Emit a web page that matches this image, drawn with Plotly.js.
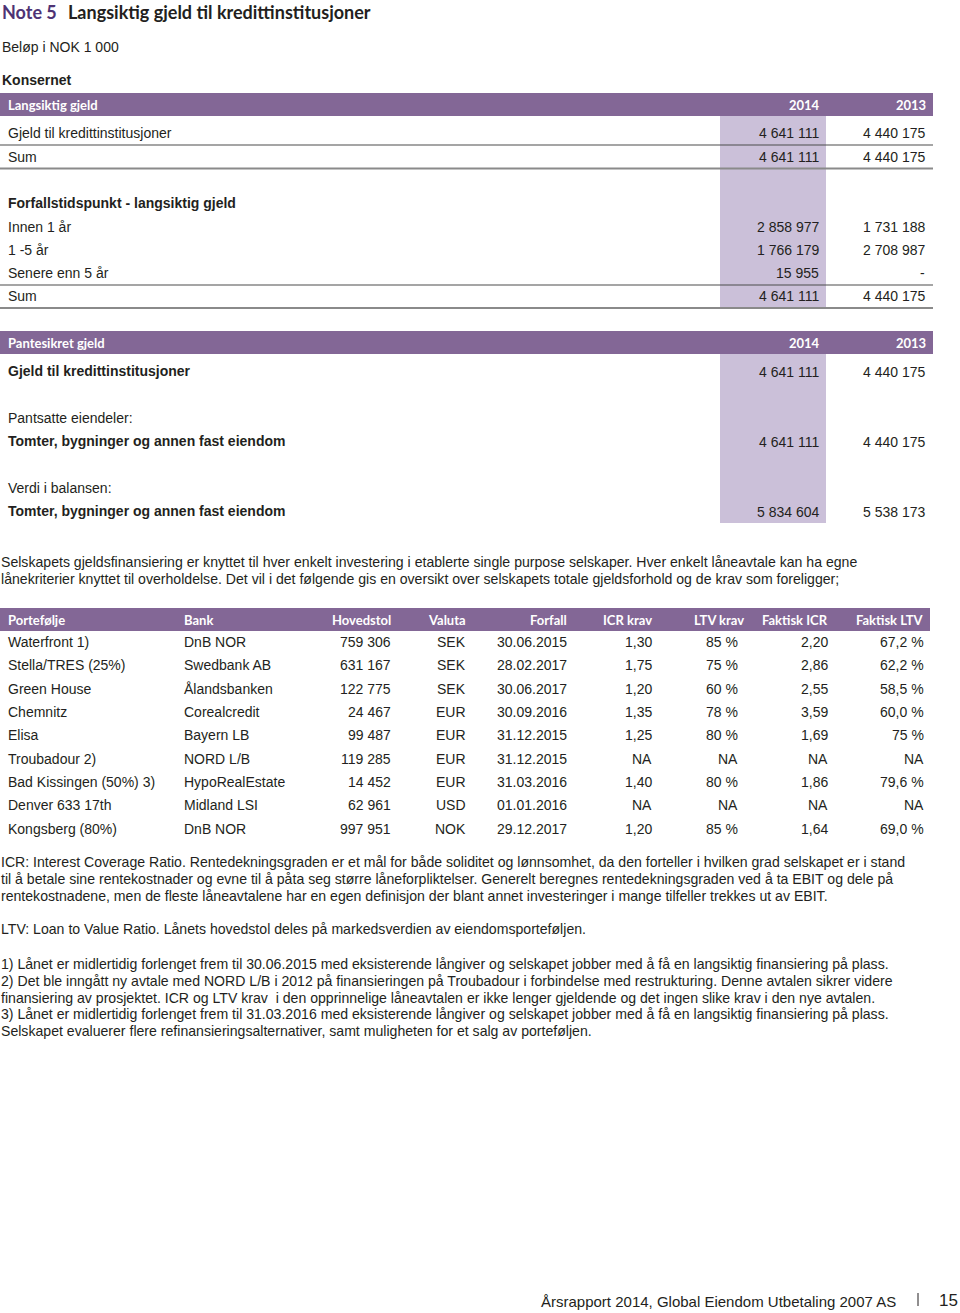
<!DOCTYPE html>
<html>
<head>
<meta charset="utf-8">
<script src="https://cdn.plot.ly/plotly-3.0.1.min.js"></script>
<style>
html,body{margin:0;padding:0;background:#fff;}
#chart{width:960px;height:1313px;}
</style>
</head>
<body>
<div id="chart"></div>
<script>
// ---------- DATA ----------
const noteLabel = 'Note 5';
const noteTitle = 'Langsiktig gjeld til kredittinstitusjoner';
const unitText = 'Beløp i NOK 1 000';
const groupText = 'Konsernet';
const years = ['2014', '2013'];

const langsiktigHeader = 'Langsiktig gjeld';
const langsiktigRows = ['Gjeld til kredittinstitusjoner', 'Sum'];
const langsiktig2014 = [4641111, 4641111];
const langsiktig2013 = [4440175, 4440175];

const forfallHeader = 'Forfallstidspunkt - langsiktig gjeld';
const forfallRows = ['Innen 1 år', '1 -5 år', 'Senere enn 5 år', 'Sum'];
const forfall2014 = [2858977, 1766179, 15955, 4641111];
const forfall2013 = [1731188, 2708987, null, 4440175];

const pantHeader = 'Pantesikret gjeld';
const pantRows = ['Gjeld til kredittinstitusjoner', 'Pantsatte eiendeler:', 'Tomter, bygninger og annen fast eiendom', 'Verdi i balansen:', 'Tomter, bygninger og annen fast eiendom'];
const pant2014 = [4641111, null, 4641111, null, 5834604];
const pant2013 = [4440175, null, 4440175, null, 5538173];

const introLines = [
  'Selskapets gjeldsfinansiering er knyttet til hver enkelt investering i etablerte single purpose selskaper. Hver enkelt låneavtale kan ha egne',
  'lånekriterier knyttet til overholdelse. Det vil i det følgende gis en oversikt over selskapets totale gjeldsforhold og de krav som foreligger;'
];

const portColumns = ['Portefølje', 'Bank', 'Hovedstol', 'Valuta', 'Forfall', 'ICR krav', 'LTV krav', 'Faktisk ICR', 'Faktisk LTV'];
const portefolje = ['Waterfront 1)', 'Stella/TRES (25%)', 'Green House', 'Chemnitz', 'Elisa', 'Troubadour 2)', 'Bad Kissingen (50%) 3)', 'Denver 633 17th', 'Kongsberg (80%)'];
const bank = ['DnB NOR', 'Swedbank AB', 'Ålandsbanken', 'Corealcredit', 'Bayern LB', 'NORD L/B', 'HypoRealEstate', 'Midland LSI', 'DnB NOR'];
const hovedstol = [759306, 631167, 122775, 24467, 99487, 119285, 14452, 62961, 997951];
const valuta = ['SEK', 'SEK', 'SEK', 'EUR', 'EUR', 'EUR', 'EUR', 'USD', 'NOK'];
const forfall = ['30.06.2015', '28.02.2017', '30.06.2017', '30.09.2016', '31.12.2015', '31.12.2015', '31.03.2016', '01.01.2016', '29.12.2017'];
const icrKrav = ['1,30', '1,75', '1,20', '1,35', '1,25', 'NA', '1,40', 'NA', '1,20'];
const ltvKrav = ['85 %', '75 %', '60 %', '78 %', '80 %', 'NA', '80 %', 'NA', '85 %'];
const faktiskIcr = ['2,20', '2,86', '2,55', '3,59', '1,69', 'NA', '1,86', 'NA', '1,64'];
const faktiskLtv = ['67,2 %', '62,2 %', '58,5 %', '60,0 %', '75 %', 'NA', '79,6 %', 'NA', '69,0 %'];

const icrLines = [
  'ICR: Interest Coverage Ratio. Rentedekningsgraden er et mål for både soliditet og lønnsomhet, da den forteller i hvilken grad selskapet er i stand',
  'til å betale sine rentekostnader og evne til å påta seg større låneforpliktelser. Generelt beregnes rentedekningsgraden ved å ta EBIT og dele på',
  'rentekostnadene, men de fleste låneavtalene har en egen definisjon der blant annet investeringer i mange tilfeller trekkes ut av EBIT.'
];
const ltvLines = ['LTV: Loan to Value Ratio. Lånets hovedstol deles på markedsverdien av eiendomsporteføljen.'];
const footnoteLines = [
  '1) Lånet er midlertidig forlenget frem til 30.06.2015 med eksisterende långiver og selskapet jobber med å få en langsiktig finansiering på plass.',
  '2) Det ble inngått ny avtale med NORD L/B i 2012 på finansieringen på Troubadour i forbindelse med restrukturing. Denne avtalen sikrer videre',
  'finansiering av prosjektet. ICR og LTV krav  i den opprinnelige låneavtalen er ikke lenger gjeldende og det ingen slike krav i den nye avtalen.',
  '3) Lånet er midlertidig forlenget frem til 31.03.2016 med eksisterende långiver og selskapet jobber med å få en langsiktig finansiering på plass.',
  'Selskapet evaluerer flere refinansieringsalternativer, samt muligheten for et salg av porteføljen.'
];
const footerText = 'Årsrapport 2014, Global Eiendom Utbetaling 2007 AS';
const pageNumber = '15';

// ---------- STYLE / LAYOUT ----------
const BODY = 'Liberation Sans, Arial, sans-serif';
const HEAD = 'Lato, Open Sans, sans-serif';
const INK = '#231f20';
const PURPLE = '#836796';
const LAVENDER = '#cbc0d9';
const FS = 14;
const PS = 14.1;

function fmt(v) {
  if (v === null || v === undefined) return '-';
  return String(v).replace(/\B(?=(\d{3})+(?!\d))/g, ' ');
}

const annotations = [];
const shapes = [];
function txt(text, x, y, o) {
  o = o || {};
  annotations.push({
    text: text, x: x, y: y, xref: 'x', yref: 'y',
    xanchor: o.anchor || 'left', yanchor: 'middle', showarrow: false,
    borderpad: 0,
    font: {family: o.family || BODY, size: o.size || FS, color: o.color || INK, weight: o.bold ? 'bold' : 'normal'}
  });
}
function rect(x0, y0, x1, y1, color) {
  shapes.push({type: 'rect', xref: 'x', yref: 'y', x0: x0, y0: y0, x1: x1, y1: y1, fillcolor: color, line: {width: 0}, layer: 'below'});
}
function hline(y, w, color) {
  shapes.push({type: 'line', xref: 'x', yref: 'y', x0: 0, x1: 933, y0: y, y1: y, line: {color: color, width: w}});
}
function headerBar(y0, label, right) {
  rect(0, y0, 933, y0 + 23, PURPLE);
  txt(label, 7, y0 + 12, {family: HEAD, bold: true, size: 13, color: '#ffffff'});
  if (right) {
    txt(years[0], 821, y0 + 12, {family: HEAD, bold: true, size: 13, color: '#ffffff', anchor: 'right'});
    txt(years[1], 927, y0 + 12, {family: HEAD, bold: true, size: 13, color: '#ffffff', anchor: 'right'});
  }
}

// Title
txt(noteLabel, 1, 12, {family: HEAD, bold: true, size: 18, color: '#4e3374'});
txt(noteTitle, 67, 12, {family: HEAD, bold: true, size: 18, color: INK});
txt(unitText, 1, 47, {});
txt(groupText, 1, 80, {bold: true});

// Table 1: Langsiktig gjeld
const C1 = 820, C2 = 926;
rect(720, 116, 826, 308, LAVENDER);
headerBar(93, langsiktigHeader, true);
const t1y = [133, 157];
langsiktigRows.forEach((r, i) => {
  txt(r, 7, t1y[i]);
  txt(fmt(langsiktig2014[i]), C1, t1y[i], {anchor: 'right'});
  txt(fmt(langsiktig2013[i]), C2, t1y[i], {anchor: 'right'});
});
hline(145, 1.2, '#4d4d4d');
hline(168.5, 2, '#8a8a8a');

txt(forfallHeader, 7, 203, {bold: true});
const t2y = [227, 250, 273, 296];
forfallRows.forEach((r, i) => {
  txt(r, 7, t2y[i]);
  txt(fmt(forfall2014[i]), C1, t2y[i], {anchor: 'right'});
  txt(fmt(forfall2013[i]), C2, t2y[i], {anchor: 'right'});
});
hline(285, 1.2, '#4d4d4d');
hline(308, 2, '#8a8a8a');

// Table 2: Pantesikret gjeld
rect(720, 354, 826, 523, LAVENDER);
headerBar(331, pantHeader, true);
const t3y = [371, 418, 441, 488, 511];
const t3bold = [true, false, true, false, true];
pantRows.forEach((r, i) => {
  txt(r, 7, t3y[i], {bold: t3bold[i]});
  if (pant2014[i] !== null) {
    txt(fmt(pant2014[i]), C1, t3y[i] + 0.5, {anchor: 'right'});
    txt(fmt(pant2013[i]), C2, t3y[i] + 0.5, {anchor: 'right'});
  }
});

// Intro paragraph
introLines.forEach((l, i) => txt(l, 0, 562 + i * 17, {size: PS}));

// Table 3: portfolio
rect(0, 608, 930, 631, PURPLE);
const colX = [7, 183, 392, 467, 568, 653, 745, 829, 925];
const colAnchor = ['left', 'left', 'right', 'right', 'right', 'right', 'right', 'right', 'right'];
portColumns.forEach((c, j) => {
  txt(c, colX[j], 620, {family: HEAD, bold: true, size: 13, color: '#ffffff', anchor: colAnchor[j]});
});
const dataX = [7, 183, 392, 467, 568, 653, 739, 829, 925];
const cols = [portefolje, bank, hovedstol.map(fmt), valuta, forfall, icrKrav, ltvKrav, faktiskIcr, faktiskLtv];
portefolje.forEach((_, i) => {
  const y = 642 + i * 23.35;
  cols.forEach((col, j) => txt(col[i], dataX[j], y, {anchor: colAnchor[j]}));
});

// Notes
icrLines.forEach((l, i) => txt(l, 0, 862 + i * 17, {size: PS}));
ltvLines.forEach((l, i) => txt(l, 0, 929 + i * 17, {size: PS}));
footnoteLines.forEach((l, i) => txt(l, 0, 964 + i * 16.8, {size: PS}));

// Footer
txt(footerText, 897, 1301, {anchor: 'right', size: 15});
shapes.push({type: 'line', xref: 'x', yref: 'y', x0: 918, x1: 918, y0: 1293, y1: 1306, line: {color: INK, width: 1}});
txt(pageNumber, 959, 1300, {anchor: 'right', size: 17});

const layout = {
  width: 960, height: 1313,
  margin: {l: 0, r: 0, t: 0, b: 0},
  paper_bgcolor: '#ffffff', plot_bgcolor: '#ffffff',
  showlegend: false,
  xaxis: {range: [0, 960], visible: false, fixedrange: true},
  yaxis: {range: [1313, 0], visible: false, fixedrange: true},
  shapes: shapes,
  annotations: annotations
};
const data = [{x: [0], y: [0], mode: 'markers', marker: {opacity: 0}, hoverinfo: 'skip'}];
Plotly.newPlot('chart', data, layout, {displayModeBar: false, staticPlot: true});
</script>
</body>
</html>
